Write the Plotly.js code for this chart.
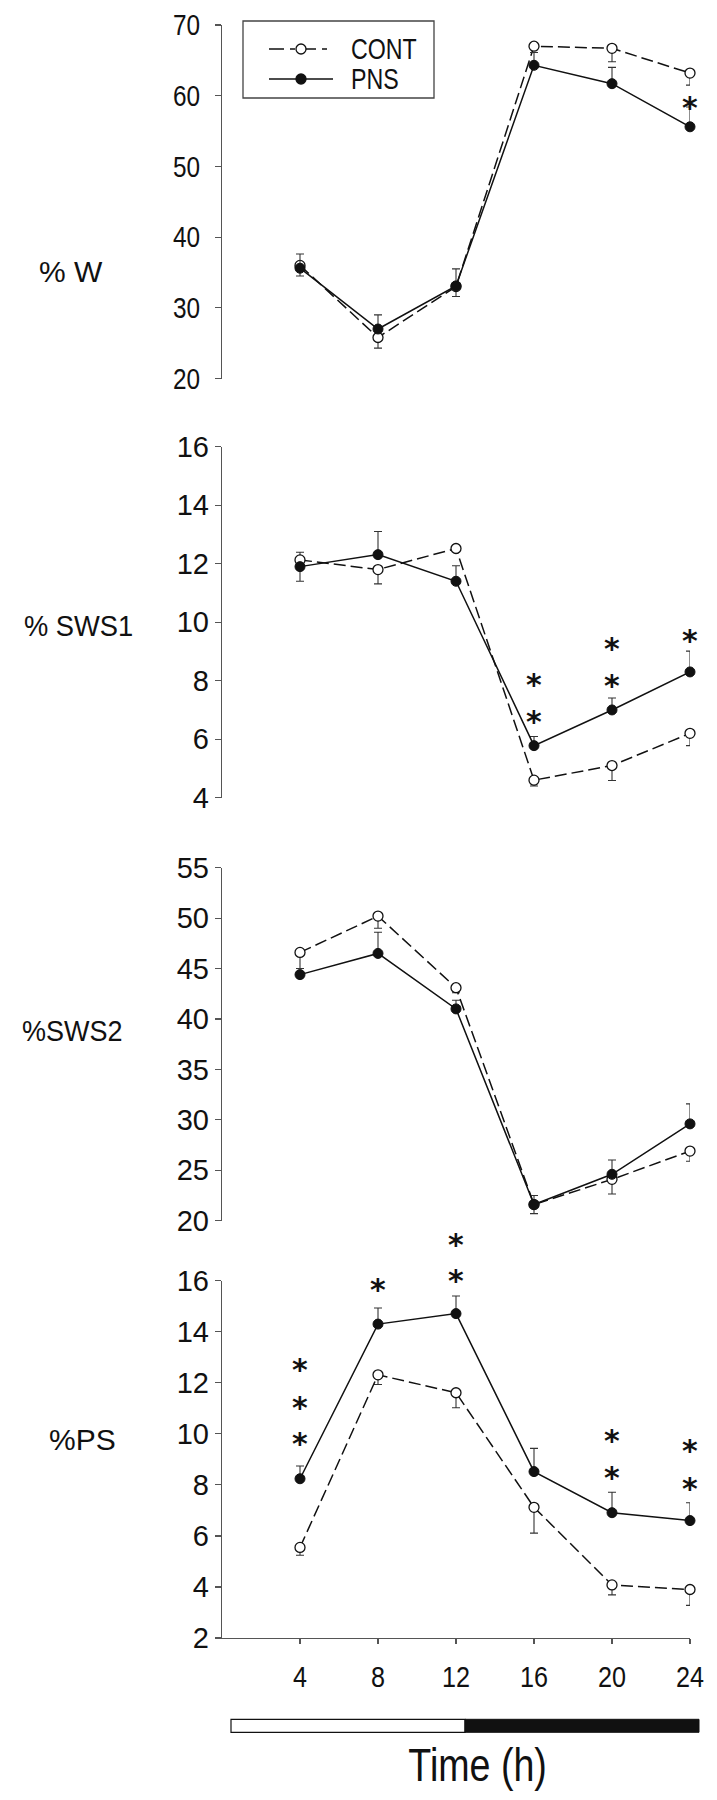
<!DOCTYPE html>
<html>
<head>
<meta charset="utf-8">
<script src="https://cdn.plot.ly/plotly-3.0.1.min.js"></script>
<style>
  html, body { margin: 0; padding: 0; background: #fff; }
  #chart { width: 717px; height: 1800px; }
</style>
</head>
<body>
<div id="chart"></div>
<script>
// ---------- data ----------
const hours = [4, 8, 12, 16, 20, 24];
const seriesNames = ['CONT', 'PNS'];
const panelLabels = ['% W', '% SWS1', '%SWS2', '%PS'];
const xTitle = 'Time (h)';

// % W
const wCont = [36.0, 25.8, 33.0, 67.0, 66.7, 63.2];
const wPns = [35.6, 27.0, 33.1, 64.3, 61.7, 55.6];
const wContErrUp = [0, 0, 0, 0, 0, 0];
const wContErrDown = [1.5, 1.5, 1.4, 0, 1.9, 1.7];
const wPnsErrUp = [2.0, 2.0, 2.4, 1.8, 2.3, 2.8];
const wPnsErrDown = [0, 0, 0, 0, 0, 0];
const wStarX = [24];
const wStarY = [59.5];
const wTicks = [20, 30, 40, 50, 60, 70];

// % SWS1
const s1Cont = [12.13, 11.8, 12.52, 4.6, 5.1, 6.2];
const s1Pns = [11.9, 12.31, 11.4, 5.78, 7.0, 8.3];
const s1ContErrUp = [0.26, 0, 0, 0, 0, 0];
const s1ContErrDown = [0, 0.49, 0, 0.2, 0.51, 0.42];
const s1PnsErrUp = [0, 0.79, 0.53, 0.31, 0.41, 0.71];
const s1PnsErrDown = [0.5, 0, 0, 0, 0, 0];
const s1StarX = [16, 16, 20, 20, 24];
const s1StarY = [8.14, 6.89, 9.39, 8.12, 9.65];
const s1Ticks = [4, 6, 8, 10, 12, 14, 16];

// % SWS2
const s2Cont = [46.6, 50.2, 43.1, 21.6, 24.1, 26.9];
const s2Pns = [44.4, 46.5, 41.0, 21.6, 24.6, 29.6];
const s2ContErrUp = [0, 0, 0, 0, 0, 0];
const s2ContErrDown = [1.6, 1.2, 0.5, 0.9, 1.45, 1.0];
const s2PnsErrUp = [0, 2.1, 0.86, 0.9, 1.42, 1.98];
const s2PnsErrDown = [0, 0, 0, 0, 0, 0];
const s2StarX = [];
const s2StarY = [];
const s2Ticks = [20, 25, 30, 35, 40, 45, 50, 55];

// % PS
const psCont = [5.55, 12.31, 11.61, 7.12, 4.08, 3.9];
const psPns = [8.24, 14.3, 14.71, 8.52, 6.91, 6.6];
const psContErrUp = [0, 0, 0, 0, 0, 0];
const psContErrDown = [0.31, 0.38, 0.59, 1.01, 0.39, 0.62];
const psPnsErrUp = [0.5, 0.63, 0.69, 0.91, 0.80, 0.70];
const psPnsErrDown = [0, 0, 0, 0, 0, 0];
const psStarX = [4, 4, 4, 8, 12, 12, 20, 20, 24, 24];
const psStarY = [12.84, 11.37, 9.93, 15.97, 16.35, 17.75, 10.08, 8.64, 9.66, 8.19];
const psTicks = [2, 4, 6, 8, 10, 12, 14, 16];

// ---------- styling / layout ----------
const FONT = "'Liberation Sans', Arial, sans-serif";
const STAR_FONT = "'DejaVu Sans', 'Liberation Sans', sans-serif";
const W = 717, H = 1800;
const ML = 222, MR = 27;
const PW = W - ML - MR;
const px2x = p => (p - ML) / PW;
const px2y = p => 1 - p / H;
const STAR_F = 30;
const XTICK_F = 30, YTICK_F = 29;
const XLABEL_BASELINE = 1687.5;   // pixel row of x tick label baseline
const YLABEL_RIGHT = 200;         // pixel column of y tick label right edge

const panels = [
  { cont: wCont, pns: wPns, cu: wContErrUp, cd: wContErrDown, pu: wPnsErrUp, pd: wPnsErrDown,
    sx: wStarX, sy: wStarY, ticks: wTicks, range: [20, 70], top: 25, bottom: 378.5,
    labelX: 37, labelY: 271, labelSqueeze: 1 },
  { cont: s1Cont, pns: s1Pns, cu: s1ContErrUp, cd: s1ContErrDown, pu: s1PnsErrUp, pd: s1PnsErrDown,
    sx: s1StarX, sy: s1StarY, ticks: s1Ticks, range: [4, 16], top: 446.7, bottom: 797.7,
    labelX: 22, labelY: 625, labelSqueeze: 0.91 },
  { cont: s2Cont, pns: s2Pns, cu: s2ContErrUp, cd: s2ContErrDown, pu: s2PnsErrUp, pd: s2PnsErrDown,
    sx: s2StarX, sy: s2StarY, ticks: s2Ticks, range: [20, 55], top: 867.7, bottom: 1220.7,
    labelX: 20, labelY: 1030, labelSqueeze: 0.9 },
  { cont: psCont, pns: psPns, cu: psContErrUp, cd: psContErrDown, pu: psPnsErrUp, pd: psPnsErrDown,
    sx: psStarX, sy: psStarY, ticks: psTicks, range: [2, 16], top: 1280.7, bottom: 1638,
    labelX: 47, labelY: 1439, labelSqueeze: 1 }
];
// value -> pixel row, the same linear map the y axis uses
const valToPx = (p, v) => p.bottom - (v - p.range[0]) / (p.range[1] - p.range[0]) * (p.bottom - p.top);

const traces = [];
const annotations = [];
const annMeta = [];
const addAnn = (a, meta) => { annotations.push(a); annMeta.push(meta || {}); };

const layout = {
  width: W, height: H,
  margin: { l: ML, r: MR, t: 0, b: 0, pad: 0 },
  paper_bgcolor: '#fff', plot_bgcolor: '#fff',
  showlegend: false,
  font: { family: FONT, color: '#111', size: 28 },
  xaxis: {
    domain: [0, 1], anchor: 'y4', range: [0, 24],
    tickvals: hours, ticktext: hours.map(String),
    showline: true, linecolor: '#555', linewidth: 1.2,
    ticks: 'outside', ticklen: 5, tickwidth: 1.2, tickcolor: '#555',
    showgrid: false, zeroline: false,
    tickfont: { family: FONT, size: XTICK_F, color: '#111' }
  },
  annotations: annotations,
  shapes: []
};

panels.forEach((p, i) => {
  const yName = i === 0 ? 'y' : 'y' + (i + 1);
  const yKey = i === 0 ? 'yaxis' : 'yaxis' + (i + 1);
  layout[yKey] = {
    domain: [px2y(p.bottom), px2y(p.top)],
    anchor: 'x', range: p.range,
    tickvals: p.ticks, ticktext: p.ticks.map(String),
    showline: true, linecolor: '#555', linewidth: 1.2,
    ticks: 'outside', ticklen: 6, tickwidth: 1.2, tickcolor: '#555',
    showgrid: false, zeroline: false,
    tickfont: { family: FONT, size: YTICK_F, color: '#111' }
  };
  // CONT
  traces.push({
    type: 'scatter', mode: 'lines+markers', name: seriesNames[0],
    x: hours, y: p.cont, xaxis: 'x', yaxis: yName, cliponaxis: false,
    line: { color: '#111', width: 1.5, dash: '12px,5px' },
    marker: { symbol: 'circle', size: 10, color: '#fff', line: { color: '#111', width: 1.3 } },
    error_y: { type: 'data', symmetric: false, array: p.cu, arrayminus: p.cd,
               color: '#333', thickness: 1.1, width: 4 }
  });
  // PNS
  traces.push({
    type: 'scatter', mode: 'lines+markers', name: seriesNames[1],
    x: hours, y: p.pns, xaxis: 'x', yaxis: yName, cliponaxis: false,
    line: { color: '#111', width: 1.5 },
    marker: { symbol: 'circle', size: 10, color: '#111', line: { color: '#111', width: 1 } },
    error_y: { type: 'data', symmetric: false, array: p.pu, arrayminus: p.pd,
               color: '#333', thickness: 1.1, width: 4 }
  });
  // significance stars, stacked ones grouped into one text
  const groups = {};
  p.sx.forEach((sx, k) => { (groups[sx] = groups[sx] || []).push(p.sy[k]); });
  Object.keys(groups).forEach(key => {
    const vals = groups[key].slice().sort((a, b) => b - a);
    const pys = vals.map(v => valToPx(p, v));
    const offsets = pys.map(py => py - pys[0]);
    addAnn({
      x: +key, y: px2y(pys[0] - 1 - 0.338 * STAR_F), xref: 'x', yref: 'paper',
      text: vals.map(() => '<b>*</b>').join('<br>'), showarrow: false,
      xanchor: 'center', yanchor: 'top', align: 'center',
      font: { family: STAR_FONT, size: STAR_F, color: '#111' }
    }, { lineOffsets: offsets });
  });
  // panel label
  addAnn({
    x: px2x(p.labelX), y: px2y(p.labelY), xref: 'paper', yref: 'paper',
    text: panelLabels[i], showarrow: false, xanchor: 'left', yanchor: 'middle', align: 'left',
    font: { family: FONT, size: 30, color: '#111' }
  }, { narrow: p.labelSqueeze !== 1 ? p.labelSqueeze : 0 });
});

// x-axis title
addAnn({
  x: px2x(477.5), y: px2y(1793), xref: 'paper', yref: 'paper',
  text: xTitle, showarrow: false, xanchor: 'center', yanchor: 'bottom',
  font: { family: FONT, size: 47, color: '#111' }
}, { narrow: 0.8 });

// light / dark bar
layout.shapes.push({
  type: 'rect', xref: 'paper', yref: 'paper',
  x0: px2x(231), x1: px2x(465), y0: px2y(1732.3), y1: px2y(1719.3),
  fillcolor: '#fff', line: { color: '#111', width: 1.2 }
});
layout.shapes.push({
  type: 'rect', xref: 'paper', yref: 'paper',
  x0: px2x(465), x1: px2x(699), y0: px2y(1732.3), y1: px2y(1719.3),
  fillcolor: '#111', line: { color: '#111', width: 1 }
});

// manual legend box
const lg = { x0: 243, x1: 434, y0: 21, y1: 98, sx0: 269, sx1: 333, mx: 301, tx: 349, rows: [49, 79], r: 5 };
layout.shapes.push({
  type: 'rect', xref: 'paper', yref: 'paper',
  x0: px2x(lg.x0), x1: px2x(lg.x1), y0: px2y(lg.y1), y1: px2y(lg.y0),
  fillcolor: 'rgba(0,0,0,0)', line: { color: '#444', width: 1.3 }
});
seriesNames.forEach((nm, k) => {
  const ry = lg.rows[k];
  layout.shapes.push({
    type: 'line', xref: 'paper', yref: 'paper',
    x0: px2x(lg.sx0), x1: px2x(lg.sx1), y0: px2y(ry), y1: px2y(ry),
    line: { color: '#111', width: 1.5, dash: k === 0 ? '15px,6px,5px,6px' : 'solid' }
  });
  layout.shapes.push({
    type: 'circle', xref: 'paper', yref: 'paper',
    x0: px2x(lg.mx - lg.r), x1: px2x(lg.mx + lg.r), y0: px2y(ry + lg.r), y1: px2y(ry - lg.r),
    fillcolor: k === 0 ? '#fff' : '#111', line: { color: '#111', width: 1.3 }
  });
  addAnn({
    x: px2x(lg.tx), y: px2y(ry), xref: 'paper', yref: 'paper',
    text: nm, showarrow: false, xanchor: 'left', yanchor: 'middle', align: 'left',
    font: { family: FONT, size: 29, color: '#111' }
  }, { narrow: 0.8 });
});

function squeeze(el, s) {
  const x = parseFloat(el.getAttribute('x')) || 0;
  const tr = el.getAttribute('transform') || '';
  el.setAttribute('transform', (tr + ' translate(' + x + ',0) scale(' + s + ',1) translate(' + (-x) + ',0)').trim());
}
function shift(el, dx, dy) {
  const tr = el.getAttribute('transform') || '';
  el.setAttribute('transform', ('translate(' + dx + ',' + dy + ') ' + tr).trim());
}

Plotly.newPlot('chart', traces, layout, { staticPlot: true, displayModeBar: false }).then(gd => {
  const box = gd.getBoundingClientRect();
  // condensed look of the original tick lettering, then exact label placement
  gd.querySelectorAll('.xtick text').forEach(t => {
    squeeze(t, 0.84);
    const bb = t.getBoundingClientRect();
    const baseline = bb.bottom - box.top - 0.212 * XTICK_F;
    shift(t, 0, XLABEL_BASELINE - baseline);
  });
  gd.querySelectorAll('.ytick text').forEach(t => {
    squeeze(t, 0.84);
    const bb = t.getBoundingClientRect();
    shift(t, YLABEL_RIGHT - (bb.right - box.left), 0);
  });
  gd.querySelectorAll('g.annotation').forEach(g => {
    const idx = +g.getAttribute('data-index');
    const meta = annMeta[idx];
    const t = g.querySelector('text.annotation-text');
    if (!meta || !t) return;
    if (meta.narrow) squeeze(t, meta.narrow);
    if (meta.lineOffsets && meta.lineOffsets.length > 1) {
      const lines = t.querySelectorAll('tspan.line');
      const sh = meta.lineOffsets.length - lines.length;
      lines.forEach((ln, k) => {
        const off = meta.lineOffsets[k + sh];
        if (off !== undefined) ln.setAttribute('dy', off + 'px');
      });
    }
  });
});
</script>
</body>
</html>
